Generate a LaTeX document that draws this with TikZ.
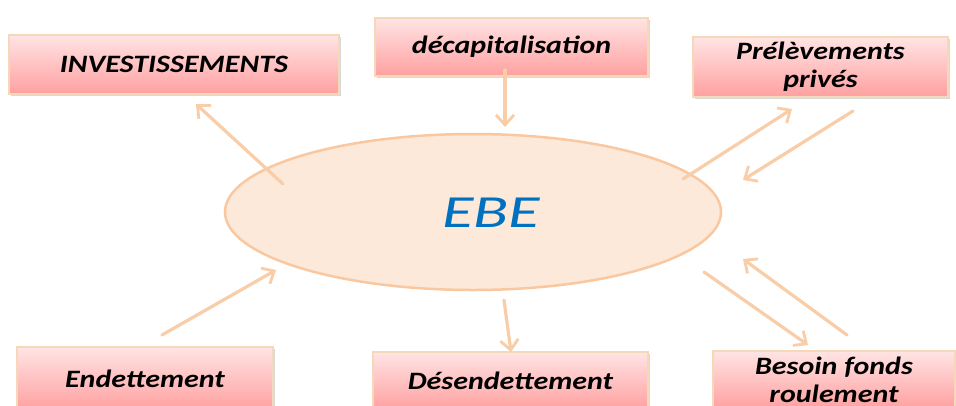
\documentclass[tikz,border=0pt]{standalone}
\usepackage{fontspec}
\newfontfamily\boxfont{Carlito}[FakeStretch=1.2]
\newfontfamily\ebefont{Carlito}[FakeStretch=1.4]
\usetikzlibrary{arrows.meta,shadows,shapes.geometric}
\definecolor{boxtop}{RGB}{255,228,228}
\definecolor{boxbot}{RGB}{255,160,160}
\definecolor{boxline}{RGB}{245,215,185}
\definecolor{arrowc}{RGB}{248,205,168}
\definecolor{ellfill}{RGB}{253,233,217}
\definecolor{elldraw}{RGB}{250,200,160}
\definecolor{ebeblue}{RGB}{0,112,192}
\tikzset{
  pinkbox/.style={draw=boxline, line width=1.2pt, top color=boxtop, bottom color=boxbot,
    align=center, inner sep=0pt,
    font=\boxfont\bfseries\itshape\fontsize{25}{28}\selectfont,
    drop shadow={shadow xshift=2pt, shadow yshift=-2pt, fill=black, opacity=0.15}},
  flow/.style={draw=arrowc, line width=3.2pt, line cap=round,
    -{Straight Barb[length=10pt,width=18pt,line width=2.8pt]}},
}
\begin{document}
\begin{tikzpicture}[x=1pt,y=-1pt]
\clip (0,0) rectangle (956,405);
\fill[white] (0,0) rectangle (956,405);
% boxes
\node[pinkbox, minimum width=330pt, minimum height=59pt] (inv) at (174,64.5) {INVESTISSEMENTS};
\node[pinkbox, minimum width=273pt, minimum height=58pt] (dec) at (511.5,47) {décapitalisation};
\node[pinkbox, minimum width=255pt, minimum height=60pt] (pre) at (820.5,67) {Prélèvements\\privés};
\node[pinkbox, minimum width=256pt, minimum height=63pt] (end) at (145,378.5) {Endettement};
\node[pinkbox, minimum width=275pt, minimum height=58pt] (des) at (510.5,381) {Désendettement};
\node[pinkbox, minimum width=242pt, minimum height=58pt] (bes) at (834,380) {Besoin fonds\\roulement};
% central ellipse
\node[ellipse, draw=elldraw, fill=ellfill, line width=2.5pt, minimum width=496pt, minimum height=156pt] (ebe) at (473,212) {};
\node[text=ebeblue, font=\ebefont\itshape\fontsize{46}{50}\selectfont] (ebetext) at (491,213) {EBE};
% connector end points
\coordinate (invA) at (283,184);
\coordinate (invB) at (196,104);
\coordinate (decA) at (505,70);
\coordinate (decB) at (505,127);
\coordinate (preA) at (683,179);
\coordinate (preB) at (792,109);
\coordinate (preC) at (853,111);
\coordinate (preD) at (743,180);
\coordinate (endA) at (162,335);
\coordinate (endB) at (276,270);
\coordinate (desA) at (504,300);
\coordinate (desB) at (511,352);
\coordinate (besA) at (704,272);
\coordinate (besB) at (808,345);
\coordinate (besC) at (847,335);
\coordinate (besD) at (743,259);
% connectors
\draw[flow] (invA) -- (invB);
\draw[flow] (decA) -- (decB);
\draw[flow] (preA) -- (preB);
\draw[flow] (preC) -- (preD);
\draw[flow] (endA) -- (endB);
\draw[flow] (desA) -- (desB);
\draw[flow] (besA) -- (besB);
\draw[flow] (besC) -- (besD);
\end{tikzpicture}
\end{document}
